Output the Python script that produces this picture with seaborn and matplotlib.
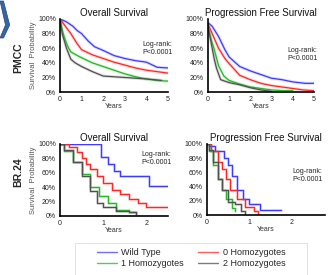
import pandas as pd
import matplotlib.pyplot as plt
import seaborn as sns
from matplotlib.patches import Polygon, Rectangle
from matplotlib.lines import Line2D

groups = ["Wild Type", "0 Homozygotes", "1 Homozygotes", "2 Homozygotes"]
colors = ["#3c3cff", "#ff2626", "#22b822", "#505050"]

# PMCC overall survival (years, survival fraction)
pmcc_os = {
    "Wild Type": ([0, 0.3, 0.6, 0.8, 1.0, 1.3, 1.6, 2.0, 2.5, 3.0, 3.5, 4.0, 4.5, 5.0],
                  [1.0, 0.96, 0.9, 0.84, 0.8, 0.7, 0.62, 0.57, 0.5, 0.46, 0.43, 0.41, 0.34, 0.33]),
    "0 Homozygotes": ([0, 0.2, 0.5, 0.8, 1.0, 1.5, 2.0, 2.5, 3.0, 3.5, 4.0, 4.5, 5.0],
                      [1.0, 0.92, 0.8, 0.66, 0.58, 0.51, 0.46, 0.41, 0.37, 0.33, 0.3, 0.28, 0.26]),
    "1 Homozygotes": ([0, 0.1, 0.2, 0.35, 0.5, 0.8, 1.0, 1.5, 2.0, 2.5, 3.0, 3.5, 4.0, 4.5, 5.0],
                      [1.0, 0.85, 0.75, 0.63, 0.55, 0.5, 0.47, 0.4, 0.35, 0.3, 0.25, 0.21, 0.18, 0.16, 0.15]),
    "2 Homozygotes": ([0, 0.1, 0.3, 0.5, 0.7, 1.0, 1.5, 2.0, 2.5, 3.0, 3.5, 4.0, 4.7],
                      [1.0, 0.8, 0.6, 0.45, 0.4, 0.35, 0.28, 0.22, 0.21, 0.2, 0.19, 0.18, 0.16]),
}
# PMCC progression free survival
pmcc_pfs = {
    "Wild Type": ([0, 0.2, 0.5, 0.8, 1.0, 1.5, 2.0, 2.5, 3.0, 3.5, 4.0, 4.6, 5.0],
                  [0.95, 0.9, 0.76, 0.58, 0.48, 0.35, 0.29, 0.24, 0.19, 0.17, 0.14, 0.12, 0.12]),
    "0 Homozygotes": ([0, 0.2, 0.5, 0.8, 1.0, 1.5, 2.0, 2.5, 3.0, 3.5, 4.0, 4.5, 5.0],
                      [0.93, 0.8, 0.6, 0.46, 0.39, 0.23, 0.17, 0.12, 0.09, 0.07, 0.05, 0.03, 0.02]),
    "1 Homozygotes": ([0, 0.15, 0.3, 0.5, 0.75, 1.0, 1.5, 2.0, 2.5, 3.0, 3.5, 4.0],
                      [0.9, 0.72, 0.58, 0.36, 0.22, 0.16, 0.11, 0.07, 0.05, 0.03, 0.02, 0.02]),
    "2 Homozygotes": ([0, 0.1, 0.2, 0.3, 0.4, 0.6, 1.0, 1.5, 2.0, 2.5, 3.0],
                      [0.9, 0.75, 0.6, 0.45, 0.33, 0.17, 0.13, 0.1, 0.06, 0.03, 0.01]),
}
# BR.24 overall survival
br_os = {
    "Wild Type": ([0, 0.9, 0.95, 1.1, 1.25, 1.4, 2.05, 2.5],
                  [1.0, 1.0, 0.82, 0.72, 0.62, 0.56, 0.42, 0.42]),
    "0 Homozygotes": ([0, 0.2, 0.4, 0.5, 0.6, 0.7, 0.85, 1.0, 1.2, 1.4, 1.6, 1.8, 2.0, 2.5],
                      [1.0, 0.96, 0.88, 0.8, 0.72, 0.65, 0.55, 0.45, 0.36, 0.3, 0.24, 0.18, 0.13, 0.12]),
    "1 Homozygotes": ([0, 0.1, 0.3, 0.5, 0.7, 0.9, 1.1, 1.3, 1.6, 1.75],
                      [1.0, 0.9, 0.75, 0.58, 0.4, 0.27, 0.18, 0.08, 0.05, 0.02]),
    "2 Homozygotes": ([0, 0.1, 0.3, 0.5, 0.7, 0.85, 1.0, 1.3, 1.6, 1.75],
                      [1.0, 0.92, 0.75, 0.55, 0.35, 0.18, 0.12, 0.07, 0.05, 0.02]),
}
# BR.24 progression free survival
br_pfs = {
    "Wild Type": ([0, 0.05, 0.2, 0.4, 0.5, 0.6, 0.7, 0.85, 1.0, 1.25, 1.75],
                  [1.0, 0.97, 0.9, 0.8, 0.7, 0.55, 0.35, 0.22, 0.15, 0.07, 0.07]),
    "0 Homozygotes": ([0, 0.1, 0.25, 0.35, 0.45, 0.55, 0.7, 0.9, 1.1, 1.2],
                      [1.0, 0.9, 0.75, 0.65, 0.5, 0.35, 0.22, 0.12, 0.05, 0.0]),
    "1 Homozygotes": ([0, 0.05, 0.15, 0.25, 0.35, 0.45, 0.6, 0.65],
                      [1.0, 0.9, 0.7, 0.5, 0.35, 0.22, 0.1, 0.05]),
    "2 Homozygotes": ([0, 0.05, 0.15, 0.25, 0.35, 0.5, 0.65, 0.8, 0.9],
                      [1.0, 0.92, 0.75, 0.5, 0.35, 0.18, 0.15, 0.05, 0.02]),
}

# data, title, axes rect, xmax, xticks, y label?, log-rank text pos, draw style
panels = [
    (pmcc_os, "Overall Survival", [0.183, 0.665, 0.329, 0.266], 5, [0, 1, 2, 3, 4, 5], True, (0.9, 0.6), "default"),
    (pmcc_pfs, "Progression Free Survival", [0.634, 0.665, 0.323, 0.266], 5, [0, 1, 2, 3, 4, 5], False, (0.89, 0.52), "default"),
    (br_os, "Overall Survival", [0.183, 0.215, 0.329, 0.262], 2.5, [0, 1, 2], True, (0.89, 0.79), "steps-post"),
    (br_pfs, "Progression Free Survival", [0.631, 0.218, 0.36, 0.259], 2.78, [0, 1, 2], False, (0.85, 0.56), "steps-post"),
]

sns.set_theme(style="white")
plt.rcParams["font.family"] = ["Liberation Sans", "DejaVu Sans"]

fig = plt.figure(figsize=(3.28, 2.75), dpi=100)
pal = dict(zip(groups, colors))

for data, title, pos, xmax, ticks, ylab, txt, ds in panels:
    ax = fig.add_axes(pos)
    rows = []
    for g in groups:
        t, s = data[g]
        for ti, si in zip(t, s):
            rows.append({"t": ti, "s": si, "g": g})
    df = pd.DataFrame(rows)
    # faint wide band to mimic the censor ticks
    sns.lineplot(data=df, x="t", y="s", hue="g", palette=pal, estimator=None,
                 drawstyle=ds, lw=2.2, alpha=0.18, legend=False, ax=ax)
    sns.lineplot(data=df, x="t", y="s", hue="g", palette=pal, estimator=None,
                 drawstyle=ds, lw=0.9, legend=False, ax=ax)
    ax.set_xlim(0, xmax)
    ax.set_ylim(0, 1.0)
    ax.set_xticks(ticks)
    ax.set_yticks([0, 0.2, 0.4, 0.6, 0.8, 1.0])
    ax.set_yticklabels(["0%", "20%", "40%", "60%", "80%", "100%"])
    ax.tick_params(labelsize=5, length=2, width=0.8, pad=1, colors="#222222")
    for sp in ["top", "right"]:
        ax.spines[sp].set_visible(False)
    for sp in ["left", "bottom"]:
        ax.spines[sp].set_color("black")
        ax.spines[sp].set_linewidth(1.2)
    ax.set_title(title, fontsize=7, pad=2, color="#111111")
    ax.set_xlabel("Years", fontsize=5, labelpad=0, color="#333333")
    ax.set_ylabel("Survival  Probability" if ylab else "", fontsize=5.5, labelpad=1, color="#555555")
    ax.text(txt[0], txt[1], "Log-rank:\nP<0.0001", transform=ax.transAxes,
            ha="center", va="center", fontsize=5, color="#222222", linespacing=1.2)

fig.text(0.055, 0.79, "PMCC", rotation=90, fontsize=7.5, fontweight="bold", ha="center", va="center")
fig.text(0.055, 0.375, "BR.24", rotation=90, fontsize=7.5, fontweight="bold", ha="center", va="center")

# blue chevron decoration at top-left
W, H = 328, 275
pts = [(0, 1), (3.5, 1), (9.7, 25), (3.5, 38), (0, 38), (5.5, 25)]
fig.patches.append(Polygon([(x / W, 1 - y / H) for x, y in pts], closed=True,
                           transform=fig.transFigure, facecolor="#3566a6", edgecolor="#25497a", lw=0.5))

# legend box
fig.patches.append(Rectangle((75 / W, 0), (307 - 75) / W, (275 - 243) / H, transform=fig.transFigure,
                             facecolor="white", edgecolor="#dddddd", lw=0.6))
handles = [Line2D([0], [0], color=c, lw=1, alpha=0.75) for c in colors]
order = [0, 2, 1, 3]  # legend fills column by column
fig.legend([handles[i] for i in order], [groups[i] for i in order], ncol=2,
           loc="center", bbox_to_anchor=(191 / W, 1 - 258 / H), frameon=False,
           fontsize=6.5, handlelength=2.2, columnspacing=1.6, labelspacing=0.15,
           handletextpad=0.5, borderpad=0)

fig.savefig("out.png", dpi=100)
